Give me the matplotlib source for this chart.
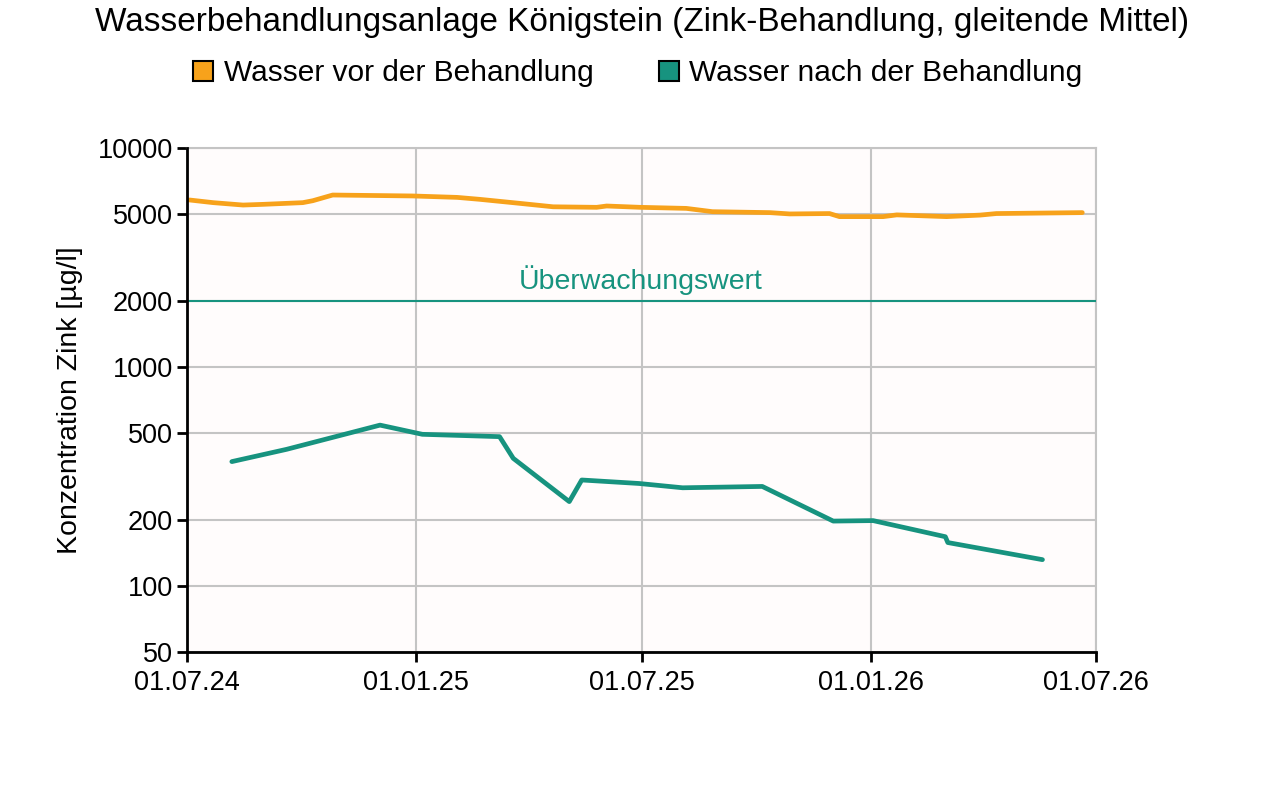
import numpy as np
import pandas as pd
import matplotlib
matplotlib.use("Agg")
import matplotlib.pyplot as plt
import matplotlib.dates as mdates
from matplotlib.lines import Line2D

plt.rcParams['font.family'] = ['Liberation Sans', 'DejaVu Sans']

# Daten
vor_datum = ["2024-07-03", "2024-07-22", "2024-08-15", "2024-08-31", "2024-10-02",
             "2024-10-10", "2024-10-26", "2024-12-29", "2025-02-03", "2025-02-21",
             "2025-03-25", "2025-04-21", "2025-05-26", "2025-06-03", "2025-06-30",
             "2025-08-06", "2025-08-27", "2025-10-12", "2025-10-28", "2025-11-29",
             "2025-12-07", "2026-01-11", "2026-01-22", "2026-03-03", "2026-03-30",
             "2026-04-12", "2026-06-20"]
vor_wert = [5790, 5630, 5490, 5530, 5630,
            5745, 6100, 6040, 5950, 5830,
            5590, 5390, 5360, 5435, 5360,
            5300, 5120, 5070, 5000, 5020,
            4860, 4860, 4950, 4860, 4940,
            5020, 5070]

nach_datum = ["2024-08-06", "2024-09-19", "2024-12-03", "2025-01-06", "2025-03-09",
              "2025-03-20", "2025-05-04", "2025-05-14", "2025-06-29", "2025-08-03",
              "2025-10-06", "2025-12-02", "2026-01-03", "2026-03-02", "2026-03-04",
              "2026-05-19"]
nach_wert = [370, 421, 543, 493, 481,
             383, 243, 305, 294, 281,
             285, 198, 199, 168, 158,
             132]

ueberwachungswert = 2000
y_ticks = [50, 100, 200, 500, 1000, 2000, 5000, 10000]
x_ticks = ["2024-07-01", "2025-01-01", "2025-07-01", "2026-01-01", "2026-07-01"]

orange = "#f7a21b"
teal = "#17937f"
grau = "#c4c4c4"

fig = plt.figure(figsize=(12.8, 7.89), dpi=100)
ax = fig.add_axes([187/1280, 1-652/789, (1096-187)/1280, (652-148)/789])
ax.set_facecolor("#fffcfc")

ax.plot(pd.to_datetime(vor_datum), vor_wert, color=orange, lw=3.4, solid_capstyle="round", zorder=4)
ax.plot(pd.to_datetime(nach_datum), nach_wert, color=teal, lw=3.4, solid_capstyle="round", zorder=4)
ax.axhline(ueberwachungswert, color=teal, lw=1.5, zorder=3)

ax.set_yscale("log")
ax.set_ylim(50, 10000)
ax.set_yticks(y_ticks)
ax.set_yticklabels([str(v) for v in y_ticks])
ax.yaxis.set_minor_locator(matplotlib.ticker.NullLocator())

xt = pd.to_datetime(x_ticks)
ax.set_xlim(xt[0], xt[-1])
ax.set_xticks(xt)
ax.xaxis.set_major_formatter(mdates.DateFormatter("%d.%m.%y"))

ax.grid(True, color=grau, lw=1.5, zorder=0)
ax.set_axisbelow(True)
for s in ["top", "right"]:
    ax.spines[s].set_color(grau)
    ax.spines[s].set_linewidth(1.5)
for s in ["left", "bottom"]:
    ax.spines[s].set_color("black")
    ax.spines[s].set_linewidth(2)
    ax.spines[s].set_zorder(5)

ax.tick_params(axis="both", labelsize=19.5, length=7, width=2, color="black", pad=3)
ax.tick_params(axis="x", pad=6)
ax.set_ylabel("Konzentration Zink [µg/l]", fontsize=20.5, labelpad=11)

ax.text(pd.Timestamp("2025-06-30"), 2130, "Überwachungswert", color=teal,
        fontsize=20.5, ha="center", va="bottom")

fig.suptitle("Wasserbehandlungsanlage Königstein (Zink-Behandlung, gleitende Mittel)",
             fontsize=24, x=642/1280, y=1-22/789, va="center")

handles = [Line2D([], [], ls="none", marker="s", markersize=14, markerfacecolor=c,
                  markeredgecolor="black", markeredgewidth=1.5) for c in (orange, teal)]
fig.legend(handles, ["Wasser vor der Behandlung", "Wasser nach der Behandlung"],
           loc="center", bbox_to_anchor=(637/1280, 1-73/789), ncol=2, frameon=False,
           fontsize=21.5, handletextpad=0.3, columnspacing=2.1, handlelength=0.8,
           borderpad=0, borderaxespad=0)

fig.savefig("out.png", dpi=100)
